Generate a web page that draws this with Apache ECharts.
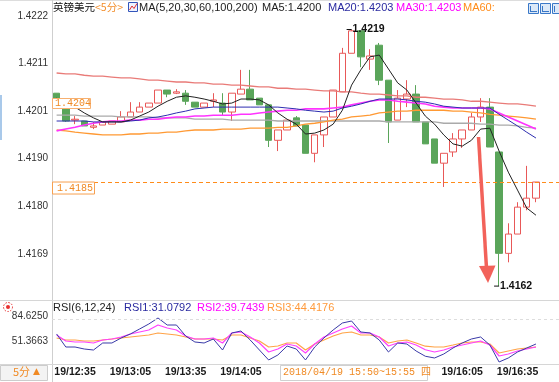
<!DOCTYPE html>
<html><head><meta charset="utf-8">
<script src="https://cdn.jsdelivr.net/npm/echarts@6/dist/echarts.min.js"></script>
<style>html,body{margin:0;padding:0;background:#fff}#c{width:559px;height:382px}</style>
</head><body><div id="c"></div>
<script>
const categories = ['19/12:25','19/12:30','19/12:35','19/12:40','19/12:45','19/12:50','19/12:55',
'19/13:00','19/13:05','19/13:10','19/13:15','19/13:20','19/13:25','19/13:30','19/13:35','19/13:40','19/13:45','19/13:50','19/13:55',
'19/14:00','19/14:05','19/14:10','19/14:15','19/14:20','19/14:25','19/14:30','19/14:35','19/14:40','19/14:45','19/14:50','19/14:55',
'19/15:00','19/15:05','19/15:10','19/15:15','19/15:20','19/15:25','19/15:30','19/15:35','19/15:40','19/15:45','19/15:50','19/15:55',
'19/16:00','19/16:05','19/16:10','19/16:15','19/16:20','19/16:25','19/16:30','19/16:35','19/16:40','19/16:45','19/16:50','19/16:55'];
const shownTimeLabels = ['19/12:35','19/13:05','19/13:35','19/14:05','19/16:05','19/16:35'];
// [open, close, low, high]
const candles = [
[1.42048,1.42035,1.42033,1.42048],[1.42024,1.41986,1.41984,1.42026],[1.41988,1.41990,1.41979,1.41997],
[1.41986,1.41975,1.41975,1.41986],[1.41972,1.41975,1.41968,1.41984],[1.41977,1.41984,1.41977,1.41984],
[1.41979,1.41986,1.41979,1.41986],[1.41984,1.41995,1.41984,1.42008],[1.41995,1.42006,1.41995,1.42028],
[1.42006,1.42017,1.42006,1.42028],[1.42017,1.42026,1.42017,1.42026],[1.42026,1.42055,1.42026,1.42055],
[1.42055,1.42046,1.42039,1.42055],[1.42048,1.42051,1.42046,1.42057],[1.42048,1.42030,1.42022,1.42055],
[1.42028,1.42017,1.42017,1.42028],[1.42017,1.42026,1.42017,1.42026],[1.42030,1.42033,1.42017,1.42048],
[1.42026,1.42006,1.41999,1.42048],[1.42006,1.42048,1.41986,1.42048],[1.42046,1.42057,1.42046,1.42100],
[1.42057,1.42033,1.42033,1.42100],[1.42037,1.42022,1.42022,1.42037],[1.42022,1.41943,1.41928,1.42022],
[1.41943,1.41966,1.41919,1.41966],[1.41966,1.41988,1.41966,1.41988],[1.41993,1.41975,1.41975,1.41997],
[1.41977,1.41914,1.41914,1.41977],[1.41914,1.41955,1.41894,1.41955],[1.41955,1.41995,1.41928,1.41995],
[1.41995,1.42055,1.41995,1.42055],[1.42051,1.42137,1.42051,1.42149],[1.42137,1.42187,1.42137,1.42190],
[1.42187,1.42129,1.42106,1.42187],[1.42124,1.42131,1.42100,1.42146],[1.42155,1.42077,1.42066,1.42160],
[1.42077,1.41984,1.41937,1.42077],[1.41988,1.42037,1.41988,1.42055],[1.42035,1.42046,1.42017,1.42077],
[1.42046,1.41984,1.41984,1.42066],[1.41984,1.41935,1.41935,1.41984],[1.41946,1.41892,1.41892,1.41946],
[1.41892,1.41914,1.41839,1.41914],[1.41917,1.41946,1.41906,1.41959],[1.41946,1.41966,1.41926,1.41966],
[1.41966,1.41995,1.41966,1.42004],[1.41995,1.42017,1.41984,1.42037],[1.42017,1.41928,1.41928,1.42037],
[1.41917,1.41691,1.41618,1.41917],[1.41691,1.41734,1.41671,1.41758],[1.41734,1.41794,1.41734,1.41805],
[1.41794,1.41814,1.41787,1.41886],[1.41814,1.41850,1.41805,1.41850]
];
const ma5 = [1.42037,1.42028,1.42017,1.42004,1.41993,1.41984,1.41984,1.41984,1.41988,1.41997,
1.42006,1.42019,1.42030,1.42039,1.42042,1.42039,1.42035,1.42030,1.42024,1.42026,
1.42035,1.42035,1.42033,1.42022,1.42004,1.41990,1.41979,1.41957,1.41959,1.41966,
1.41979,1.42010,1.42066,1.42100,1.42129,1.42133,1.42102,1.42071,1.42055,1.42026,
1.41997,1.41979,1.41955,1.41935,1.41930,1.41943,1.41968,1.41970,1.41919,1.41872,
1.41832,1.41792,1.41776];
const ma20 = [1.41986,1.41986,1.41986,1.41986,1.41984,1.41984,1.41984,1.41984,1.41986,1.41988,
1.41993,1.41995,1.41999,1.42004,1.42008,1.42013,1.42015,1.42017,1.42017,1.42017,
1.42017,1.42017,1.42017,1.42017,1.42017,1.42015,1.42013,1.42010,1.42008,1.42006,
1.42008,1.42015,1.42019,1.42024,1.42030,1.42035,1.42035,1.42035,1.42033,1.42030,
1.42028,1.42024,1.42019,1.42017,1.42015,1.42015,1.42015,1.42015,1.42001,1.41988,
1.41975,1.41961,1.41948];
const ma30 = [1.41964,1.41968,1.41972,1.41977,1.41981,1.41984,1.41986,1.41986,1.41988,1.41988,
1.41990,1.41990,1.41993,1.41995,1.41995,1.41997,1.41997,1.41999,1.41999,1.41999,
1.42001,1.42001,1.42004,1.42006,1.42008,1.42010,1.42010,1.42013,1.42013,1.42013,
1.42015,1.42017,1.42022,1.42026,1.42030,1.42033,1.42033,1.42030,1.42028,1.42026,
1.42024,1.42019,1.42017,1.42015,1.42015,1.42015,1.42015,1.42013,1.42004,1.41995,
1.41986,1.41977,1.41968];
const ma60 = [1.41966,1.41964,1.41961,1.41959,1.41957,1.41955,1.41955,1.41955,1.41957,1.41957,
1.41959,1.41959,1.41961,1.41961,1.41964,1.41966,1.41966,1.41966,1.41968,1.41968,
1.41968,1.41970,1.41970,1.41970,1.41972,1.41972,1.41975,1.41979,1.41981,1.41984,
1.41988,1.41990,1.41995,1.41997,1.41999,1.42004,1.42006,1.42008,1.42008,1.42010,
1.42010,1.42010,1.42010,1.42008,1.42008,1.42006,1.42004,1.42001,1.41999,1.41997,
1.41995,1.41993,1.41990];
const ma100 = [1.41999,1.41999,1.41999,1.41997,1.41997,1.41997,1.41997,1.41995,1.41995,1.41995,
1.41995,1.41993,1.41993,1.41993,1.41993,1.41990,1.41990,1.41990,1.41990,1.41988,
1.41988,1.41988,1.41988,1.41988,1.41986,1.41986,1.41986,1.41986,1.41986,1.41986,
1.41986,1.41986,1.41986,1.41986,1.41986,1.41986,1.41984,1.41984,1.41984,1.41984,
1.41984,1.41984,1.41981,1.41981,1.41981,1.41981,1.41979,1.41979,1.41977,1.41977,
1.41975,1.41972,1.41970];
const ma200 = [1.42093,1.42091,1.42091,1.42088,1.42086,1.42086,1.42084,1.42082,1.42082,1.42080,
1.42077,1.42077,1.42075,1.42073,1.42073,1.42071,1.42071,1.42068,1.42068,1.42066,
1.42066,1.42064,1.42062,1.42062,1.42059,1.42059,1.42057,1.42057,1.42055,1.42053,
1.42053,1.42051,1.42051,1.42048,1.42046,1.42046,1.42044,1.42042,1.42042,1.42039,
1.42039,1.42037,1.42035,1.42035,1.42033,1.42030,1.42030,1.42028,1.42026,1.42024,
1.42024,1.42022,1.42019];
const rsi1 = [60.68,43.38,43.38,40.72,39.39,48.71,48.71,55.36,60.68,67.33,
73.98,82.00,72.65,72.65,58.02,50.04,48.71,54.03,39.39,62.01,
64.67,52.70,39.39,26.09,32.74,44.71,40.72,26.09,43.38,55.36,
66.00,75.31,77.97,63.34,62.01,52.70,36.73,48.71,47.37,38.06,
31.08,28.75,34.07,42.05,48.71,54.03,56.69,46.04,23.43,28.75,
36.73,42.05,47.37];
const rsi2 = [59.35,51.37,50.04,50.04,48.71,52.70,54.03,56.69,60.68,63.34,
66.00,72.65,68.66,66.00,58.02,54.03,54.03,55.36,48.71,62.01,
63.34,56.69,48.71,36.73,40.72,47.37,44.71,35.40,47.37,56.69,
62.01,67.33,71.32,62.01,62.01,56.69,44.71,48.71,50.04,46.04,
39.74,36.73,39.39,43.38,46.04,48.71,51.37,46.04,31.41,34.07,
38.06,40.72,43.38];
const rsi3 = [55.36,52.70,52.70,51.37,51.37,52.70,54.03,55.36,56.69,58.02,
59.35,62.01,60.68,59.35,56.69,54.03,54.03,54.03,52.70,59.35,
59.35,55.36,51.37,43.38,44.71,48.71,48.71,39.39,47.37,52.70,
58.02,62.01,63.34,59.35,59.35,56.69,48.71,51.37,52.70,48.71,
44.42,43.38,43.38,46.04,48.71,50.04,50.04,47.37,35.40,38.06,
40.72,42.05,43.38];
const priceTicks = [1.41690,1.41796,1.41902,1.42008,1.42114,1.42220];
const rsiTicks = [51.3663,84.6250];
const lastPrice = 1.4185;
const highIdx = 32, lowIdx = 48;

const SANS = '"Liberation Sans", Arial, sans-serif';
const chart = echarts.init(document.getElementById('c'));
const lineS = (name, data, color, width, xi) => ({
  name, type:'line', data, xAxisIndex:xi, yAxisIndex:xi, symbol:'none', silent:true,
  lineStyle:{color, width}, itemStyle:{color}, animation:false
});
chart.setOption({
  animation:false,
  backgroundColor:'#ffffff',
  grid:[{left:52, top:12, width:507, height:288},{left:52, top:316, width:507, height:48}],
  xAxis:[
    {type:'category', gridIndex:0, data:categories, boundaryGap:true, axisLine:{show:false}, axisTick:{show:false}, axisLabel:{show:false}, splitLine:{show:false}},
    {type:'category', gridIndex:1, data:categories, boundaryGap:true, axisLine:{show:false}, axisTick:{show:false}, splitLine:{show:false},
     axisLabel:{interval:(i,v)=>shownTimeLabels.includes(v), fontSize:10.5, fontWeight:'bold', color:'#1a1a1a', margin:3, fontFamily:SANS}}
  ],
  yAxis:[
    {type:'value', gridIndex:0, min:1.41587, max:1.42229, axisLine:{show:false}, axisTick:{show:false}, splitLine:{show:false},
     axisLabel:{customValues:priceTicks, formatter:v=>v.toFixed(4), fontSize:10, color:'#333', margin:4, fontFamily:SANS}},
    {type:'value', gridIndex:1, min:20.767, max:84.625, axisLine:{show:false}, axisTick:{show:false}, splitLine:{show:false},
     axisLabel:{customValues:rsiTicks, formatter:v=>v.toFixed(4), fontSize:10, color:'#333', margin:4, fontFamily:SANS}}
  ],
  series:[
    {type:'candlestick', name:'英镑美元', data:candles, xAxisIndex:0, yAxisIndex:0, barWidth:7, silent:true,
     itemStyle:{color:'rgba(255,255,255,0)', color0:'#5aa55a', borderColor:'#e85858', borderColor0:'#5aa55a', borderWidth:1},
     markPoint:{symbol:'rect', symbolSize:[5,1], symbolOffset:[-2.5,0], itemStyle:{color:'#111'}, silent:true,
       label:{show:true, position:'right', distance:1, color:'#111', fontSize:10.5, fontWeight:'bold', fontFamily:SANS,
         formatter:p=>p.data.coord[1].toFixed(4)},
       data:[{coord:[categories[highIdx], candles[highIdx][3]]},{coord:[categories[lowIdx], candles[lowIdx][2]]}]}
    },
    lineS('MA200', ma200, '#e97b78', 1.3, 0),
    lineS('MA100', ma100, '#aaaaaa', 1.3, 0),
    lineS('MA60', ma60, '#ff9933', 1.3, 0),
    lineS('MA30', ma30, '#ff33ff', 1.6, 0),
    lineS('MA20', ma20, '#2d2db0', 1, 0),
    Object.assign(lineS('MA5', ma5, '#222222', 1, 0),
      {markLine:{silent:true, precision:5, symbol:'none', label:{show:false}, lineStyle:{type:[4,3], color:'#ff8c1a', width:1},
       data:[{yAxis:lastPrice}]}}),
    lineS('RSI3', rsi3, '#ffa347', 1.2, 1),
    lineS('RSI2', rsi2, '#ff40ff', 1.2, 1),
    Object.assign(lineS('RSI1', rsi1, '#3a3aa8', 1, 1),
      {markLine:{silent:true, precision:2, symbol:'none', label:{show:false}, lineStyle:{type:[3,3], color:'#dddddd', width:1}, data:[{yAxis:80}]}})
  ]
});

const yLast = chart.convertToPixel({yAxisIndex:0}, lastPrice);
const T = (x,y,text,fill,font,z) => ({type:'text', x, y, z:z||50, silent:true, style:{text, fill, font}});
const L = (x1,y1,x2,y2,stroke,w,z) => ({type:'line', z:z||1, silent:true, shape:{x1,y1,x2,y2}, style:{stroke, lineWidth:w||1}});
const R = (x,y,w,h,fill,stroke,z) => ({type:'rect', z:z||50, silent:true, shape:{x,y,width:w,height:h}, style:{fill, stroke, lineWidth:1}});
const F11 = '11px ' + SANS;
const els = [
  L(0,0.5,559,0.5,'#dddddd'),
  L(52.5,0,52.5,382,'#cfcfcf'),
  L(0,300.5,559,300.5,'#d6d6d6'),
  L(0,364.5,559,364.5,'#d6d6d6'),
  R(0,95,2,45,'#a9c9ea',null,5),
  // header
  T(53,2,'英镑美元','#111','10.5px "Noto Sans CJK SC", sans-serif'),
  T(95,2,'<5分>','#f28c28','10.5px "Noto Sans CJK SC", sans-serif'),
  R(128.5,2.5,9,9,'#eef3ff','#3355bb'),
  {type:'polyline', z:51, silent:true, shape:{points:[[129.5,10],[132,6],[134,8.5],[137,3.5]]}, style:{stroke:'#e03030', fill:null, lineWidth:1}},
  T(139,2,'MA(5,20,30,60,100,200)','#222',F11),
  T(262,2,'MA5:1.4200','#222',F11),
  T(328,2,'MA20:1.4203','#2a2aa0',F11),
  T(396,2,'MA30:1.4203','#ff00ff',F11),
  T(463,2,'MA60:','#ff8c1a',F11),
  R(528.5,3.5,10,10,'#dce9f8','#3a78c8'),
  R(540.5,3.5,10,10,'#dce9f8','#3a78c8'),
  R(552.5,3.5,10,10,'#dce9f8','#3a78c8'),
  L(530.5,6,530.5,12,'#3a78c8',1,51), L(530,11.5,537,11.5,'#3a78c8',1,51),
  L(542.5,6,542.5,12,'#3a78c8',1,51), L(542,11.5,549,11.5,'#3a78c8',1,51),
  L(554.5,6,554.5,12,'#3a78c8',1,51),
  // price boxes
  R(52.5,98.5,38,10,'#ffffff','#f7b070',60),
  T(55,98,'1.4204','#f08a24','10px "Liberation Mono", monospace',61),
  R(52.5,yLast,42,12,'#ffffff','#f7a050',60),
  T(57,yLast+1,'1.4185','#f08a24','10px "Liberation Mono", monospace',61),
  // arrow
  {type:'line', z:70, silent:true, shape:{x1:478.5,y1:137,x2:486.5,y2:268}, style:{stroke:'#f2625a', lineWidth:3.5}},
  {type:'polygon', z:70, silent:true, shape:{points:[[479,266],[495.5,265.5],[488,283]]}, style:{fill:'#f2625a'}},
  // RSI header
  {type:'circle', z:50, silent:true, shape:{cx:8,cy:307,r:4.5}, style:{fill:null, stroke:'#e83030', lineWidth:1, lineDash:[1.5,1.5]}},
  {type:'circle', z:51, silent:true, shape:{cx:8,cy:307,r:2}, style:{fill:'#e83030'}},
  T(53,302,'RSI(6,12,24)','#222',F11),
  T(124,302,'RSI1:31.0792','#2a2aa0',F11),
  T(197,302,'RSI2:39.7439','#ff00ff',F11),
  T(267,302,'RSI3:44.4176','#ff9a3c',F11),
  // bottom
  R(0.5,365.5,47,15,'#f3f3f3','#cccccc',60),
  T(13,366,'5分','#f08a24','11px "Noto Sans CJK SC", sans-serif',61),
  T(33,367,'▲','#f08a24','9px "DejaVu Sans", sans-serif',61),
  R(280.5,365.5,147,15,'#ffffff','#d0d0d0',60),
  T(283,367,'2018/04/19 15:50~15:55 四','#f08a24','10px "Liberation Mono", "Noto Sans CJK SC", monospace',61)
];
chart.setOption({graphic:{elements:els}});
</script></body></html>
